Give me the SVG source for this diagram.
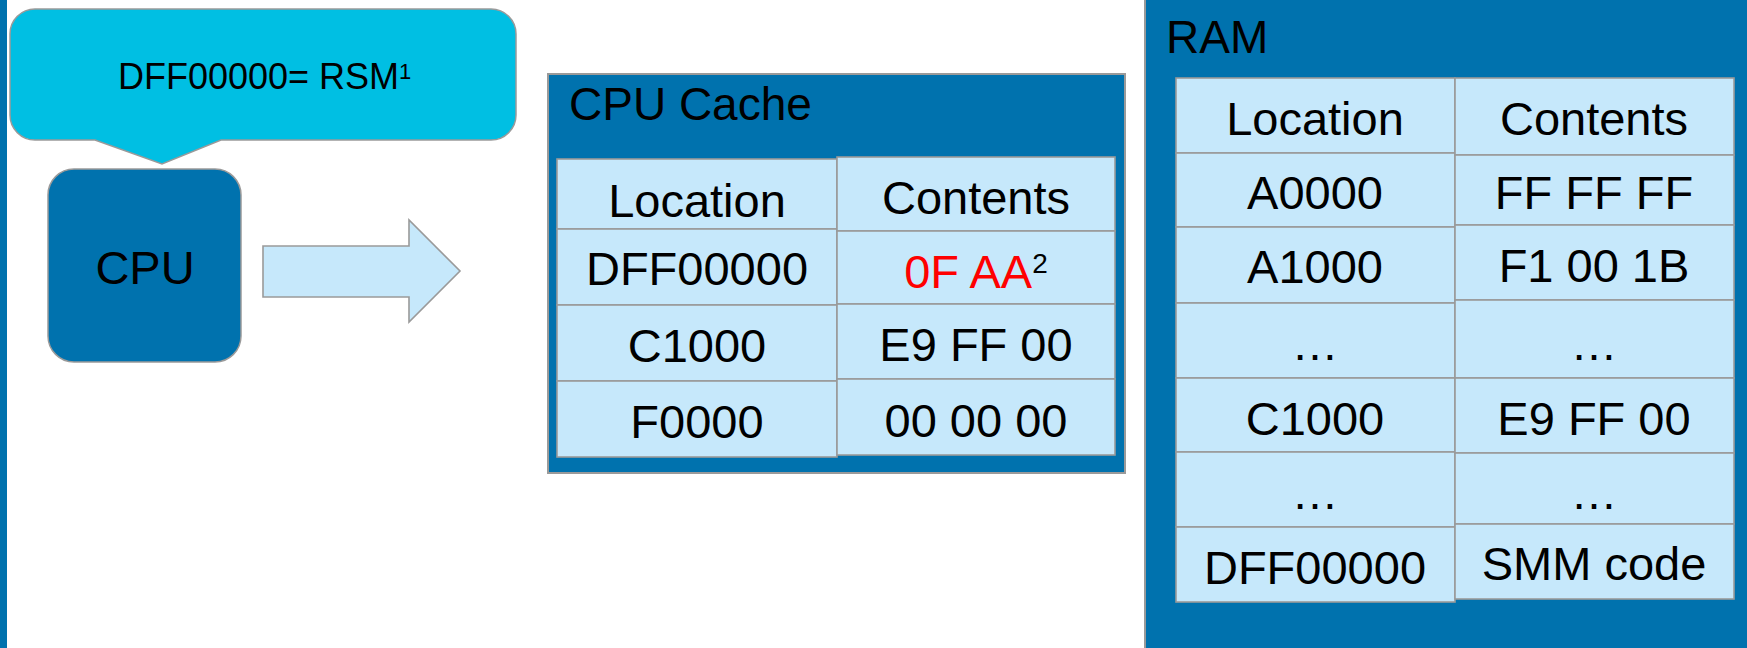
<svg xmlns="http://www.w3.org/2000/svg" width="1747" height="648" viewBox="0 0 1747 648">
<style>
  .t { font-family: "Liberation Sans", Arial, sans-serif; fill: #000; }
  .panel { fill: #0072AE; stroke: #9a9a9a; stroke-width: 2; }
  .cell { fill: #C6E8FB; stroke: #9a9a9a; stroke-width: 1.6; }
  .cellt { font-family: "Liberation Sans", Arial, sans-serif; font-size: 47px; text-anchor: middle; fill: #000; }
  .title { font-family: "Liberation Sans", Arial, sans-serif; font-size: 46px; fill: #000; }
</style>
<rect x="0" y="0" width="1747" height="648" fill="#ffffff"/>
<rect id="leftbar" x="0" y="0" width="7" height="648" fill="#0072AE"/>

<g id="callout">
  <path d="M35,9 H491 A25,25 0 0 1 516,34 V115 A25,25 0 0 1 491,140 H221 L162,164 L95,140 H35 A25,25 0 0 1 10,115 V34 A25,25 0 0 1 35,9 Z" fill="#00BFE3" stroke="#9a9a9a" stroke-width="1.5"/>
  <text class="t" x="118" y="89" font-size="36">DFF00000= RSM<tspan font-size="22" dy="-10">1</tspan></text>
</g>

<g id="cpu">
  <rect x="48" y="169" width="193" height="193" rx="26" ry="26" fill="#0072AE" stroke="#9a9a9a" stroke-width="1.5"/>
  <text class="t" x="145" y="284" font-size="47" text-anchor="middle">CPU</text>
</g>

<g id="connectors">
  <polygon points="263,246 409,246 409,220 460,271 409,322 409,297 263,297" fill="#C6E8FB" stroke="#9a9a9a" stroke-width="1.6"/>
</g>

<g id="cache">
  <rect class="panel" x="548" y="74" width="577" height="399"/>
  <text class="title" x="569" y="120">CPU Cache</text>
  <rect class="cell" x="557" y="159" width="280" height="70"/>
  <rect class="cell" x="557" y="229" width="280" height="76"/>
  <rect class="cell" x="557" y="305" width="280" height="76"/>
  <rect class="cell" x="557" y="381" width="280" height="76"/>
  <rect class="cell" x="837" y="157" width="278" height="74"/>
  <rect class="cell" x="837" y="231" width="278" height="73"/>
  <rect class="cell" x="837" y="304" width="278" height="75"/>
  <rect class="cell" x="837" y="379" width="278" height="76"/>
  <text class="cellt" x="697" y="217">Location</text>
  <text class="cellt" x="976" y="214">Contents</text>
  <text class="cellt" x="697" y="285">DFF00000</text>
  <text class="cellt" x="976" y="288"><tspan fill="#FF0000">0F AA</tspan><tspan font-size="28" dy="-15">2</tspan></text>
  <text class="cellt" x="697" y="362">C1000</text>
  <text class="cellt" x="976" y="361">E9 FF 00</text>
  <text class="cellt" x="697" y="438">F0000</text>
  <text class="cellt" x="976" y="437">00 00 00</text>
</g>

<g id="ram">
  <rect class="panel" x="1145" y="-5" width="610" height="660"/>
  <text class="title" x="1166" y="53">RAM</text>
  <rect class="cell" x="1176" y="78" width="279" height="75"/>
  <rect class="cell" x="1176" y="153" width="279" height="74"/>
  <rect class="cell" x="1176" y="227" width="279" height="76"/>
  <rect class="cell" x="1176" y="303" width="279" height="75"/>
  <rect class="cell" x="1176" y="378" width="279" height="74"/>
  <rect class="cell" x="1176" y="452" width="279" height="75"/>
  <rect class="cell" x="1176" y="527" width="279" height="75"/>
  <rect class="cell" x="1455" y="78" width="279" height="77"/>
  <rect class="cell" x="1455" y="155" width="279" height="70"/>
  <rect class="cell" x="1455" y="225" width="279" height="75"/>
  <rect class="cell" x="1455" y="300" width="279" height="78"/>
  <rect class="cell" x="1455" y="378" width="279" height="75"/>
  <rect class="cell" x="1455" y="453" width="279" height="71"/>
  <rect class="cell" x="1455" y="524" width="279" height="75"/>
  <text class="cellt" x="1315" y="135">Location</text>
  <text class="cellt" x="1594" y="135">Contents</text>
  <text class="cellt" x="1315" y="209">A0000</text>
  <text class="cellt" x="1594" y="209">FF FF FF</text>
  <text class="cellt" x="1315" y="283">A1000</text>
  <text class="cellt" x="1594" y="282">F1 00 1B</text>
  <text class="cellt" x="1315" y="360">…</text>
  <text class="cellt" x="1594" y="360">…</text>
  <text class="cellt" x="1315" y="435">C1000</text>
  <text class="cellt" x="1594" y="435">E9 FF 00</text>
  <text class="cellt" x="1315" y="509">…</text>
  <text class="cellt" x="1594" y="509">…</text>
  <text class="cellt" x="1315" y="584">DFF00000</text>
  <text class="cellt" x="1594" y="580">SMM code</text>
</g>
</svg>
